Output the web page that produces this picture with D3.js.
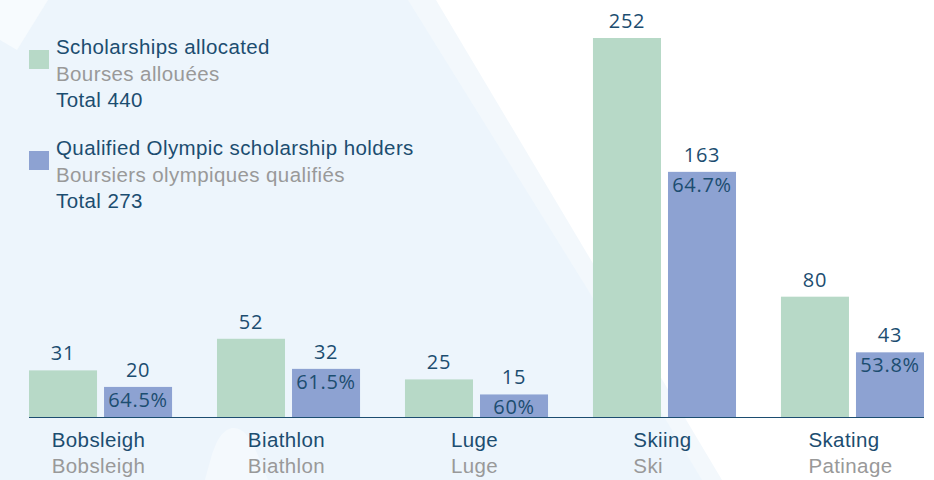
<!DOCTYPE html>
<html>
<head>
<meta charset="utf-8">
<script src="https://cdn.jsdelivr.net/npm/d3@7"></script>
<style>
  html, body { margin: 0; padding: 0; background: #fff; }
  svg { display: block; }
</style>
</head>
<body>
<div id="chart"></div>
<script>
// data
const sportsEn = ["Bobsleigh", "Biathlon", "Luge", "Skiing", "Skating"];
const sportsFr = ["Bobsleigh", "Biathlon", "Luge", "Ski", "Patinage"];
const allocated = [31, 52, 25, 252, 80];
const qualified = [20, 32, 15, 163, 43];
const qualifiedShare = ["64.5%", "61.5%", "60%", "64.7%", "53.8%"];
const seriesKeys = ["allocated", "qualified"];
const legendEn = ["Scholarships allocated", "Qualified Olympic scholarship holders"];
const legendFr = ["Bourses allouées", "Boursiers olympiques qualifiés"];
const legendTotal = ["Total 440", "Total 273"];

const width = 934, height = 480;
const colors = {allocated: "#b7d9c7", qualified: "#8da2d2"};
const textBlue = "#1c4d70";
const textGrey = "#999999";
const sansFont = "'Liberation Sans', Arial, sans-serif";
const numFont = "'Open Sans', sans-serif";

const svg = d3.select("#chart").append("svg")
    .attr("width", width)
    .attr("height", height);

// background mountains
const bg = svg.append("g");
bg.append("rect").attr("width", width).attr("height", height).attr("fill", "#ffffff");
bg.append("path")
    .attr("d", "M0,0 L436,0 L722,480 L0,480 Z")
    .attr("fill", "#f3f8fc");
bg.append("path")
    .attr("d", "M0,0 L408,0 L585,285 L702,480 L0,480 Z")
    .attr("fill", "#edf5fc");
bg.append("path")
    .attr("d", "M0,0 L48,0 L17,50 L0,40 Z")
    .attr("fill", "#f7fbfe");
bg.append("path")
    .attr("d", "M205,480 C212,455 216,432 232,428 C248,426 256,450 268,480 Z")
    .attr("fill", "#f4f9fd");

const rows = sportsEn.map((s, i) => ({
    sport: s, fr: sportsFr[i],
    allocated: allocated[i], qualified: qualified[i], share: qualifiedShare[i]
}));

const x0 = d3.scaleBand()
    .domain(sportsEn)
    .range([29, 924])
    .paddingInner(0.239)
    .paddingOuter(0);

const x1 = d3.scaleBand()
    .domain(seriesKeys)
    .range([0, x0.bandwidth()])
    .paddingInner(7 / 75);

const y = d3.scaleLinear()
    .domain([0, 252])
    .range([417, 38]);

const groups = svg.append("g").selectAll("g")
    .data(rows)
    .enter().append("g")
    .attr("transform", d => "translate(" + x0(d.sport) + ",0)");

groups.selectAll("rect")
    .data(d => seriesKeys.map(k => ({key: k, value: d[k]})))
    .enter().append("rect")
    .attr("x", d => x1(d.key))
    .attr("y", d => y(d.value))
    .attr("width", x1.bandwidth())
    .attr("height", d => y(0) - y(d.value))
    .attr("fill", d => colors[d.key]);

groups.selectAll("text.val")
    .data(d => seriesKeys.map(k => ({key: k, value: d[k]})))
    .enter().append("text")
    .attr("class", "val")
    .attr("x", d => x1(d.key) + x1.bandwidth() / 2)
    .attr("y", d => y(d.value) - 10)
    .attr("text-anchor", "middle")
    .attr("font-family", numFont)
    .attr("font-size", "20px")
    .attr("letter-spacing", "0.7px")
    .attr("fill", textBlue)
    .text(d => d.value);

groups.append("text")
    .attr("x", x1("qualified") + x1.bandwidth() / 2)
    .attr("y", d => y(d.qualified) + 20)
    .attr("text-anchor", "middle")
    .attr("font-family", numFont)
    .attr("font-size", "20px")
    .attr("letter-spacing", "0.7px")
    .attr("fill", textBlue)
    .text(d => d.share);

// baseline
svg.append("line")
    .attr("x1", 29).attr("x2", 924)
    .attr("y1", y(0) + 0.5).attr("y2", y(0) + 0.5)
    .attr("stroke", textBlue)
    .attr("stroke-width", 1.2);

// category labels, each pair left-aligned and centred as a block
groups.each(function(d) {
    const g = d3.select(this);
    const en = g.append("text")
        .attr("y", 447)
        .attr("font-family", sansFont)
        .attr("font-size", "20.5px")
        .attr("letter-spacing", "0.4px")
        .attr("fill", textBlue)
        .text(d.sport);
    const fr = g.append("text")
        .attr("y", 473)
        .attr("font-family", sansFont)
        .attr("font-size", "20.5px")
        .attr("letter-spacing", "0.4px")
        .attr("fill", textGrey)
        .text(d.fr);
    const w = Math.max(en.node().getComputedTextLength(), fr.node().getComputedTextLength());
    const left = x0.bandwidth() / 2 - w / 2 - 2;
    en.attr("x", left);
    fr.attr("x", left);
});

// legend
const legend = svg.append("g").selectAll("g")
    .data(seriesKeys)
    .enter().append("g")
    .attr("transform", (d, i) => "translate(29," + (i * 101) + ")");

legend.append("rect")
    .attr("x", 0).attr("y", 50)
    .attr("width", 20).attr("height", 19)
    .attr("fill", d => colors[d]);

const legendLines = [legendEn, legendFr, legendTotal];
const legendFill = [textBlue, textGrey, textBlue];
legendLines.forEach((arr, j) => {
    legend.append("text")
        .attr("x", 27)
        .attr("y", 54 + j * 26.5)
        .attr("font-family", sansFont)
        .attr("font-size", "20.5px")
        .attr("letter-spacing", "0.4px")
        .attr("fill", legendFill[j])
        .text((d, i) => arr[i]);
});
</script>
</body>
</html>
